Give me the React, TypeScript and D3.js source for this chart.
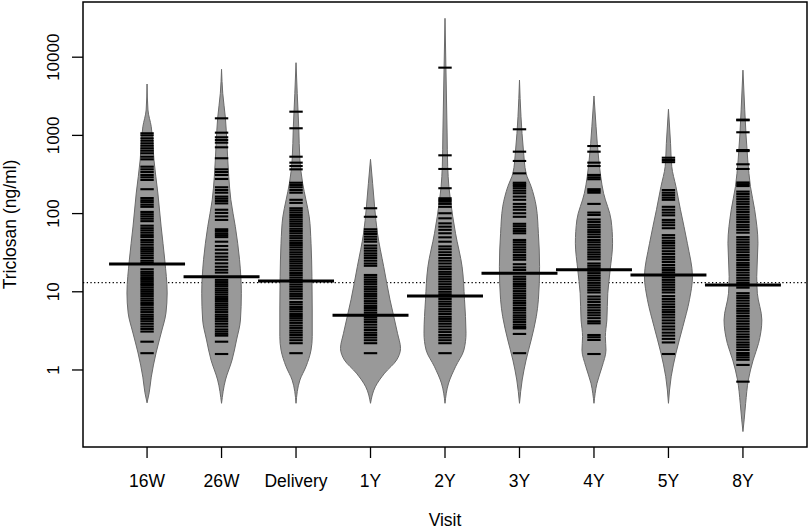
import React from "react";
import * as d3 from "d3";

// ---- data ----
const visits = ["16W", "26W", "Delivery", "1Y", "2Y", "3Y", "4Y", "5Y", "8Y"];
const yTicks = [1, 10, 100, 1000, 10000];
const groupMeans = [22.7, 15.6, 13.7, 5.0, 8.84, 17.3, 19.1, 16.4, 12.2];
const overallMean = 13.07;

// observations (ng/ml) per visit
const obs16W = [1064, 1000, 918, 855, 792, 738, 684, 637, 590, 534, 494, 398, 368, 340, 312, 291, 269, 205, 158, 148, 140, 130, 122, 105, 98, 92, 86, 80, 70, 65, 61, 57, 53, 50, 46, 43, 40, 37, 35, 33, 31, 29, 27, 25, 23.5, 19.4, 18, 17, 16, 15, 14.2, 13.4, 12.6, 12, 11.3, 10.6, 10, 9.4, 8.8, 8.2, 7.7, 7.2, 6.8, 6.3, 5.9, 5.5, 5.1, 4.8, 4.5, 4.2, 3.9, 3.6, 3.35, 3.1, 2.3, 1.64];
const obs26W = [1653, 1083, 946, 873, 807, 704, 510, 368, 340, 312, 277, 217, 200, 185, 165, 155, 145, 135, 112, 102, 92, 83, 63, 60, 56, 53, 50, 43.7, 38.5, 34.5, 31, 28.1, 25.7, 23.1, 20.9, 19.1, 17.6, 14.2, 13.3, 12.5, 11.8, 11, 10.4, 9.8, 9.2, 8.6, 8.1, 7.6, 7.1, 6.7, 6.3, 5.9, 5.5, 5.1, 4.8, 4.5, 4.2, 3.9, 3.6, 3.3, 3.1, 2.9, 2.75, 2.3, 1.6];
const obsDelivery = [2010, 1233, 534, 448, 406, 368, 248, 232, 217, 200, 185, 150, 137, 117, 110, 103, 96, 90, 84, 79, 74, 69, 64, 60, 56, 52, 48.5, 45, 42, 39.5, 37, 34.5, 32, 30, 28, 26, 24.5, 23, 21.5, 20, 18.7, 17.4, 16.3, 15.2, 14.2, 13.3, 12.4, 11.6, 10.8, 10.1, 9.4, 8.8, 8.2, 7.4, 6.9, 6.4, 6.0, 5.6, 5.2, 4.9, 4.6, 4.3, 4.0, 3.7, 3.45, 3.2, 3.0, 2.8, 2.6, 2.4, 2.2, 1.64];
const obs1Y = [117, 91, 63, 58.7, 54.8, 50.7, 46.9, 43.7, 39, 36, 33.5, 31, 29, 27, 25, 23, 21.5, 16.4, 15.3, 14.3, 13.4, 12.5, 11.6, 10.8, 10.1, 9.4, 8.8, 8.2, 7.6, 7.1, 6.6, 6.2, 5.8, 5.4, 5.0, 4.7, 4.4, 4.1, 3.8, 3.5, 3.25, 3.0, 2.8, 2.6, 2.4, 2.2, 1.64];
const obs2Y = [7350, 556, 372, 211, 157, 149, 142, 133, 122, 101, 87, 75, 68, 62, 56, 49.7, 43.7, 38, 35, 32, 29.5, 27, 25, 23, 21, 19.5, 18, 16.8, 15.6, 14.5, 13.5, 12.5, 11.6, 10.8, 10, 9.3, 8.7, 8.1, 7.5, 7.0, 6.5, 6.0, 5.6, 5.2, 4.8, 4.5, 4.2, 3.9, 3.6, 3.3, 3.05, 2.8, 2.6, 2.4, 2.2, 1.64];
const obs3Y = [1197, 619, 471, 327, 248, 237, 225, 211, 196, 182, 165, 150, 133, 122, 112, 101, 91, 74, 69, 64, 60, 56, 46, 43, 40, 37, 34.5, 32, 29.5, 27.5, 25.7, 22.5, 20.5, 19, 15.6, 14.5, 13.5, 12.6, 11.8, 11, 10.2, 9.5, 8.9, 8.3, 7.7, 7.2, 6.7, 6.2, 5.8, 5.4, 5.0, 4.7, 4.4, 4.1, 3.8, 3.55, 3.4, 2.89, 1.64];
const obs4Y = [731, 619, 448, 406, 312, 291, 275, 205, 195, 185, 133, 103, 96, 84, 78, 72, 67, 62, 58, 54, 50, 46, 43, 40, 37, 34.5, 32, 30, 28, 26, 23, 21.5, 20, 18.6, 17.3, 16.1, 15, 14, 13, 12.1, 11.3, 10.5, 9.8, 8.7, 8.0, 7.4, 6.8, 6.3, 5.8, 5.4, 5.0, 4.6, 4.2, 3.95, 2.8, 2.62, 2.42, 1.6];
const obs5Y = [518, 485, 455, 200, 185, 172, 160, 150, 122, 112, 103, 95, 83, 77, 71, 65, 53, 49, 45, 42, 39, 36, 33, 30.5, 28, 26, 24, 22, 20.3, 19, 17.7, 16.5, 15.3, 14.2, 13.2, 12.3, 11.4, 10.6, 9.8, 8.8, 8.1, 7.5, 6.9, 6.4, 5.9, 5.5, 5.1, 4.7, 4.3, 3.95, 3.6, 3.3, 3.0, 2.75, 2.5, 2.25, 1.6];
const obs8Y = [1590, 1560, 1096, 650, 630, 427, 372, 250, 238, 225, 191, 178, 165, 153, 142, 132, 122, 113, 105, 97, 90, 84, 78, 72, 67, 62, 57, 50, 46.5, 43, 40, 37, 34.5, 32, 29.5, 27.5, 25.5, 23.5, 22, 20.5, 19, 17.6, 16.3, 15.1, 14, 13, 12.1, 11.3, 9.6, 8.9, 8.3, 7.7, 7.1, 6.6, 6.1, 5.7, 5.3, 4.9, 4.55, 4.2, 3.9, 3.6, 3.35, 3.1, 2.85, 2.65, 2.45, 2.25, 2.1, 1.95, 1.8, 1.65, 1.55, 1.45, 1.35, 1.16, 0.709];

// density outline (value, relative density) per visit
const dens16W: [number, number][] = [[4540, 0], [2113, 0.03], [1291, 0.14], [800, 0.19], [484, 0.23], [183, 0.36], [67.5, 0.47], [25.5, 0.59], [9.66, 0.67], [5.36, 0.63], [2.97, 0.47], [1.65, 0.3], [0.81, 0.14], [0.51, 0.07], [0.38, 0]];
const dens26W: [number, number][] = [[7000, 0], [3450, 0.04], [1655, 0.13], [792, 0.18], [297, 0.24], [150, 0.31], [68, 0.46], [25.7, 0.6], [9.57, 0.66], [4.36, 0.63], [2.42, 0.5], [1.34, 0.35], [0.745, 0.13], [0.375, 0]];
const densDelivery: [number, number][] = [[8500, 0], [3450, 0.04], [1291, 0.09], [485, 0.13], [244, 0.22], [150, 0.33], [91, 0.44], [41.7, 0.5], [15.6, 0.53], [5.85, 0.54], [2.67, 0.54], [1.8, 0.5], [1.1, 0.33], [0.745, 0.13], [0.375, 0]];
const dens1Y: [number, number][] = [[494, 0], [244, 0.07], [118, 0.14], [56.5, 0.23], [20.9, 0.44], [7.9, 0.65], [2.95, 0.9], [1.89, 1.0], [1.34, 0.87], [0.91, 0.47], [0.61, 0.16], [0.375, 0]];
const dens2Y: [number, number][] = [[31400, 0], [7550, 0.03], [1074, 0.07], [398, 0.09], [221, 0.13], [150, 0.18], [56, 0.35], [20.9, 0.57], [7.9, 0.65], [2.95, 0.7], [1.8, 0.63], [1.1, 0.35], [0.68, 0.12], [0.375, 0]];
const dens3Y: [number, number][] = [[5100, 0], [1735, 0.05], [650, 0.13], [327, 0.22], [221, 0.39], [122, 0.56], [56, 0.63], [20.9, 0.67], [7.9, 0.63], [4.8, 0.56], [2.42, 0.39], [1.34, 0.22], [0.745, 0.09], [0.375, 0]];
const dens4Y: [number, number][] = [[3190, 0], [1291, 0.07], [485, 0.16], [182, 0.32], [83, 0.57], [41.7, 0.62], [19.1, 0.54], [9.57, 0.46], [4.36, 0.43], [2.67, 0.38], [1.8, 0.4], [1.1, 0.27], [0.676, 0.1], [0.375, 0]];
const dens5Y: [number, number][] = [[2158, 0], [792, 0.07], [398, 0.11], [221, 0.25], [112, 0.4], [41.7, 0.63], [15.6, 0.8], [7.9, 0.7], [3.58, 0.48], [1.64, 0.25], [0.82, 0.09], [0.375, 0]];
const dens8Y: [number, number][] = [[6830, 0], [2120, 0.06], [485, 0.16], [221, 0.25], [112, 0.39], [41.7, 0.5], [15.6, 0.46], [9.57, 0.48], [4.36, 0.63], [2.19, 0.52], [1.34, 0.34], [0.745, 0.18], [0.375, 0.09], [0.23, 0.04], [0.163, 0]];

const observations = [obs16W, obs26W, obsDelivery, obs1Y, obs2Y, obs3Y, obs4Y, obs5Y, obs8Y];
const densities = [dens16W, dens26W, densDelivery, dens1Y, dens2Y, dens3Y, dens4Y, dens5Y, dens8Y];

// ---- layout ----
const W = 810;
const H = 531;
const left = 83;
const right = 807;
const top = 2;
const bottom = 447;
const font = "'Liberation Sans', Arial, Helvetica, sans-serif";

export default function App() {
  const x = d3.scaleLinear().domain([0.14, visits.length + 0.86]).range([left, right]);
  const y = d3.scaleLog().domain([0.1035, 50800]).range([bottom, top]);
  const w = d3.scaleLinear().domain([0, 1]).range([0, 30]);
  const beanLineHalf = 0.09;
  const meanHalf = 0.51;

  const beans = visits.map((v, i) => {
    const cx = x(i + 1);
    const area = d3
      .area<[number, number]>()
      .y((d) => y(d[0]))
      .x0((d) => cx - w(d[1]))
      .x1((d) => cx + w(d[1]))
      .curve(d3.curveMonotoneY);
    return { v, i, cx, path: area(densities[i]) || "" };
  });

  return (
    <svg
      width={W}
      height={H}
      style={{ position: "absolute", left: 0, top: 0, background: "#fff" }}
      fontFamily={font}
    >
      <rect x={0} y={0} width={W} height={H} fill="#fff" />
      {/* overall mean dotted line */}
      <line
        x1={left}
        x2={right}
        y1={y(overallMean)}
        y2={y(overallMean)}
        stroke="#000"
        strokeWidth={1.3}
        strokeDasharray="1.3 2.4"
      />
      {/* beans */}
      {beans.map((b) => (
        <path key={"bean" + b.i} d={b.path} fill="#999999" stroke="#6a6a6a" strokeWidth={1} />
      ))}
      {/* bean lines */}
      {beans.map((b) =>
        observations[b.i].map((o, k) => (
          <line
            key={"o" + b.i + "-" + k}
            x1={x(b.i + 1 - beanLineHalf)}
            x2={x(b.i + 1 + beanLineHalf)}
            y1={y(o)}
            y2={y(o)}
            stroke="#000"
            strokeWidth={2.1}
          />
        ))
      )}
      {/* group mean lines */}
      {beans.map((b) => (
        <line
          key={"m" + b.i}
          x1={x(b.i + 1 - meanHalf)}
          x2={x(b.i + 1 + meanHalf)}
          y1={y(groupMeans[b.i])}
          y2={y(groupMeans[b.i])}
          stroke="#000"
          strokeWidth={3}
        />
      ))}
      {/* box */}
      <rect
        x={left}
        y={top}
        width={right - left}
        height={bottom - top}
        fill="none"
        stroke="#000"
        strokeWidth={1.5}
      />
      {/* y axis */}
      {yTicks.map((t) => (
        <g key={"yt" + t}>
          <line x1={left - 11} x2={left} y1={y(t)} y2={y(t)} stroke="#000" strokeWidth={1.3} />
          <text
            transform={`translate(59,${y(t)}) rotate(-90)`}
            textAnchor="middle"
            fontSize={17}
            fill="#000"
          >
            {String(t)}
          </text>
        </g>
      ))}
      {/* x axis */}
      {visits.map((v, i) => (
        <g key={"xt" + v}>
          <line x1={x(i + 1)} x2={x(i + 1)} y1={bottom} y2={bottom + 11} stroke="#000" strokeWidth={1.3} />
          <text x={x(i + 1)} y={486.5} textAnchor="middle" fontSize={17.5} fill="#000">
            {v}
          </text>
        </g>
      ))}
      <text x={(left + right) / 2} y={526} textAnchor="middle" fontSize={17.5} fill="#000">
        Visit
      </text>
      <text
        transform={`translate(15.5,${(top + bottom) / 2}) rotate(-90)`}
        textAnchor="middle"
        fontSize={17.5}
        fill="#000"
      >
        Triclosan (ng/ml)
      </text>
    </svg>
  );
}
